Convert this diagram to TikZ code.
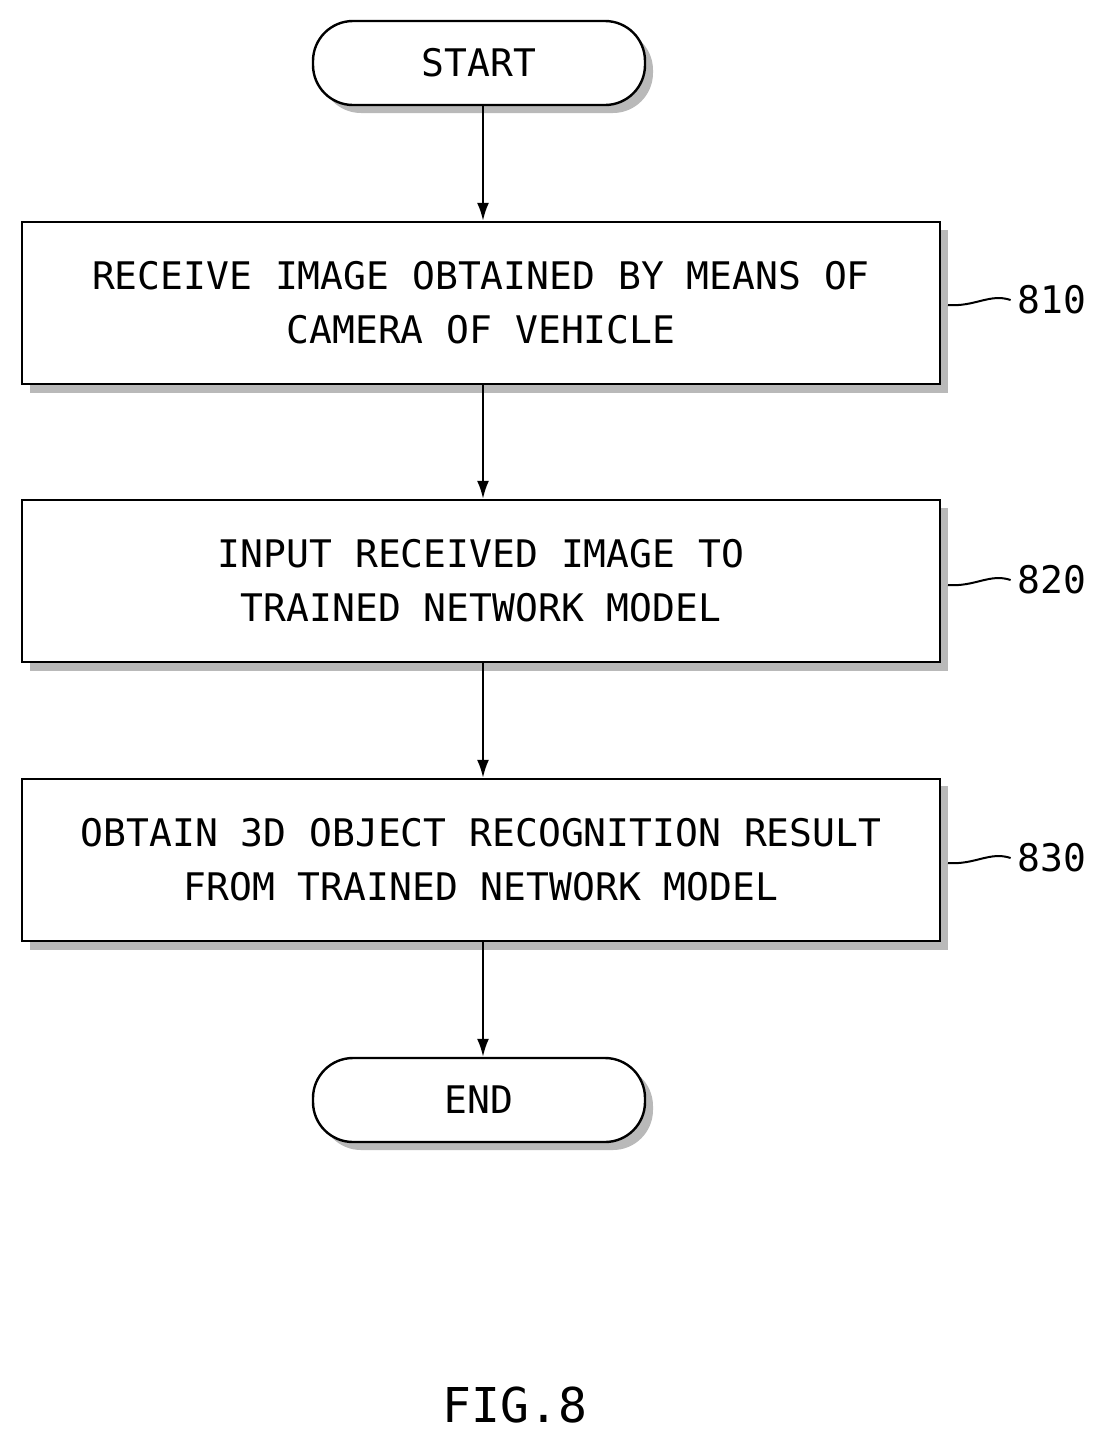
\documentclass[tikz,border=0pt]{standalone}
\usepackage{fontspec}
\setmonofont{DejaVu Sans Mono}
\usetikzlibrary{arrows.meta}
\begin{document}
\begin{tikzpicture}[x=0.5pt,y=-0.5pt,
  box/.style={draw,line width=1.2pt,fill=white,minimum width=459pt,minimum height=81pt,align=center,font=\ttfamily\fontsize{19}{27}\selectfont},
  term/.style={draw,line width=1.2pt,fill=white,rounded corners=20pt,minimum width=166pt,minimum height=42pt,font=\ttfamily\fontsize{19}{23}\selectfont},
  shad/.style={fill=gray!55},
  arr/.style={-{Latex[length=9pt,width=6pt]},line width=1.1pt},
  lab/.style={font=\ttfamily\fontsize{19}{23}\selectfont}]
\useasboundingbox (0,0) rectangle (1107,1447);
\fill[shad,rounded corners=20pt] (321,30) rectangle (653,113);
\fill[shad] (30,230) rectangle (948,393);
\fill[shad] (30,508) rectangle (948,671);
\fill[shad] (30,786) rectangle (948,950);
\fill[shad,rounded corners=20pt] (321,1066) rectangle (653,1150);
\node[term] (s) at (479,63) {START};
\node[box] (a) at (481,303) {RECEIVE IMAGE OBTAINED BY MEANS OF\\CAMERA OF VEHICLE};
\node[box] (b) at (481,581) {INPUT RECEIVED IMAGE TO\\TRAINED NETWORK MODEL};
\node[box] (c) at (481,860) {OBTAIN 3D OBJECT RECOGNITION RESULT\\FROM TRAINED NETWORK MODEL};
\node[term] (e) at (479,1100) {END};
\draw[arr] ([xshift=2pt]s.south) -- ([xshift=1pt]a.north);
\draw[arr] ([xshift=1pt]a.south) -- ([xshift=1pt]b.north);
\draw[arr] ([xshift=1pt]b.south) -- ([xshift=1pt]c.north);
\draw[arr] ([xshift=1pt]c.south) -- ([xshift=2pt]e.north);
\node[lab] (l1) at (1052,300) {810};
\node[lab] (l2) at (1052,580) {820};
\node[lab] (l3) at (1052,858) {830};
\foreach \y/\l in {305/l1,585/l2,863/l3}
  \draw[line width=1pt] (948,\y) .. controls (975,\y+2) and (990,\y-12) .. (\l.west);
\node[font=\ttfamily\fontsize{24}{28}\selectfont] (f) at (515,1405) {FIG.8};
\end{tikzpicture}
\end{document}
